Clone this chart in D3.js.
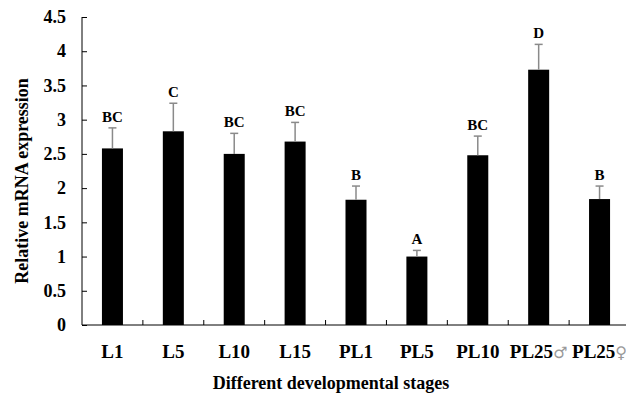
<!DOCTYPE html>
<html>
<head>
<meta charset="utf-8">
<script src="https://cdn.jsdelivr.net/npm/d3@7"></script>
<style>
  body { margin: 0; background: #fff; }
  text { font-family: "Liberation Serif", "Times New Roman", serif; font-weight: bold; }
</style>
</head>
<body>
<div id="chart"></div>
<script>
// values
const stages = ["L1", "L5", "L10", "L15", "PL1", "PL5", "PL10", "PL25\u2642", "PL25\u2640"];
const means = [2.58, 2.83, 2.50, 2.68, 1.83, 1.00, 2.48, 3.73, 1.84];
const errs = [0.30, 0.41, 0.30, 0.28, 0.20, 0.09, 0.28, 0.37, 0.19];
const letters = ["BC", "C", "BC", "BC", "B", "A", "BC", "D", "B"];
const yTicks = [0, 0.5, 1, 1.5, 2, 2.5, 3, 3.5, 4, 4.5];

const W = 626, H = 397;
const plotL = 82, plotR = 630, plotT = 17, plotB = 325;

const svg = d3.select("#chart")
  .append("svg")
  .attr("width", W)
  .attr("height", H);

// scales
const x = d3.scaleBand()
  .domain(stages)
  .range([plotL, plotR])
  .paddingInner(0.655)
  .paddingOuter(0.655 / 2);

const y = d3.scaleLinear()
  .domain([0, 4.5])
  .range([plotB, plotT]);

// y axis, ticks point inward
const yAxis = svg.append("g")
  .attr("transform", `translate(${plotL},0)`)
  .call(d3.axisLeft(y).tickValues(yTicks).tickSize(-5).tickPadding(16).tickFormat(d => d));
yAxis.select(".domain").attr("d", `M0,${plotT}V${plotB}`).attr("stroke", "#000");
yAxis.selectAll("line").attr("stroke", "#000");
yAxis.selectAll("text")
  .attr("font-size", 18)
  .attr("font-family", "Liberation Serif, serif")
  .attr("font-weight", "bold")
  .attr("fill", "#000");

// x axis line
svg.append("line")
  .attr("x1", plotL).attr("x2", plotR)
  .attr("y1", plotB).attr("y2", plotB)
  .attr("stroke", "#000");

// ticks between categories
const gap = (x.step() - x.bandwidth()) / 2;
svg.selectAll(".xtick")
  .data(stages.slice(1))
  .join("line")
  .attr("class", "xtick")
  .attr("x1", d => x(d) - gap).attr("x2", d => x(d) - gap)
  .attr("y1", plotB).attr("y2", plotB - 5)
  .attr("stroke", "#000");

// bars
svg.selectAll(".bar")
  .data(stages)
  .join("rect")
  .attr("class", "bar")
  .attr("x", d => x(d))
  .attr("width", x.bandwidth())
  .attr("y", (d, i) => y(means[i]))
  .attr("height", (d, i) => plotB - y(means[i]))
  .attr("fill", "#000");

// error bars
const eb = svg.selectAll(".err")
  .data(stages)
  .join("g")
  .attr("class", "err")
  .attr("transform", d => `translate(${x(d) + x.bandwidth() / 2},0)`);
eb.append("line")
  .attr("y1", (d, i) => y(means[i]))
  .attr("y2", (d, i) => y(means[i] + errs[i]))
  .attr("stroke", "#8a8a8a")
  .attr("stroke-width", 1.5);
eb.append("line")
  .attr("x1", -4).attr("x2", 4)
  .attr("y1", (d, i) => y(means[i] + errs[i]))
  .attr("y2", (d, i) => y(means[i] + errs[i]))
  .attr("stroke", "#8a8a8a")
  .attr("stroke-width", 1.5);

// significance letters
svg.selectAll(".letter")
  .data(stages)
  .join("text")
  .attr("class", "letter")
  .attr("x", d => x(d) + x.bandwidth() / 2)
  .attr("y", (d, i) => y(means[i] + errs[i]) - 6)
  .attr("text-anchor", "middle")
  .attr("font-size", 15)
  .text((d, i) => letters[i]);

// category labels, sex symbols in grey
const xl = svg.selectAll(".xlab")
  .data(stages)
  .join("text")
  .attr("class", "xlab")
  .attr("x", d => x(d) + x.bandwidth() / 2)
  .attr("y", 358)
  .attr("text-anchor", "middle")
  .attr("font-size", 19);
xl.append("tspan").text(d => d.replace(/[\u2640\u2642]/, ""));
xl.filter(d => /[\u2640\u2642]/.test(d))
  .append("tspan")
  .attr("fill", "#999")
  .attr("font-weight", "normal")
  .attr("font-family", "DejaVu Sans, sans-serif")
  .attr("font-size", 16)
  .text(d => d.match(/[\u2640\u2642]/)[0]);

// axis titles
svg.append("text")
  .attr("x", 331)
  .attr("y", 389)
  .attr("text-anchor", "middle")
  .attr("font-size", 18)
  .text("Different developmental stages");

svg.append("text")
  .attr("transform", "translate(22,181) rotate(-90)")
  .attr("text-anchor", "middle")
  .attr("dominant-baseline", "central")
  .attr("font-size", 18)
  .text("Relative mRNA expression");
</script>
</body>
</html>
